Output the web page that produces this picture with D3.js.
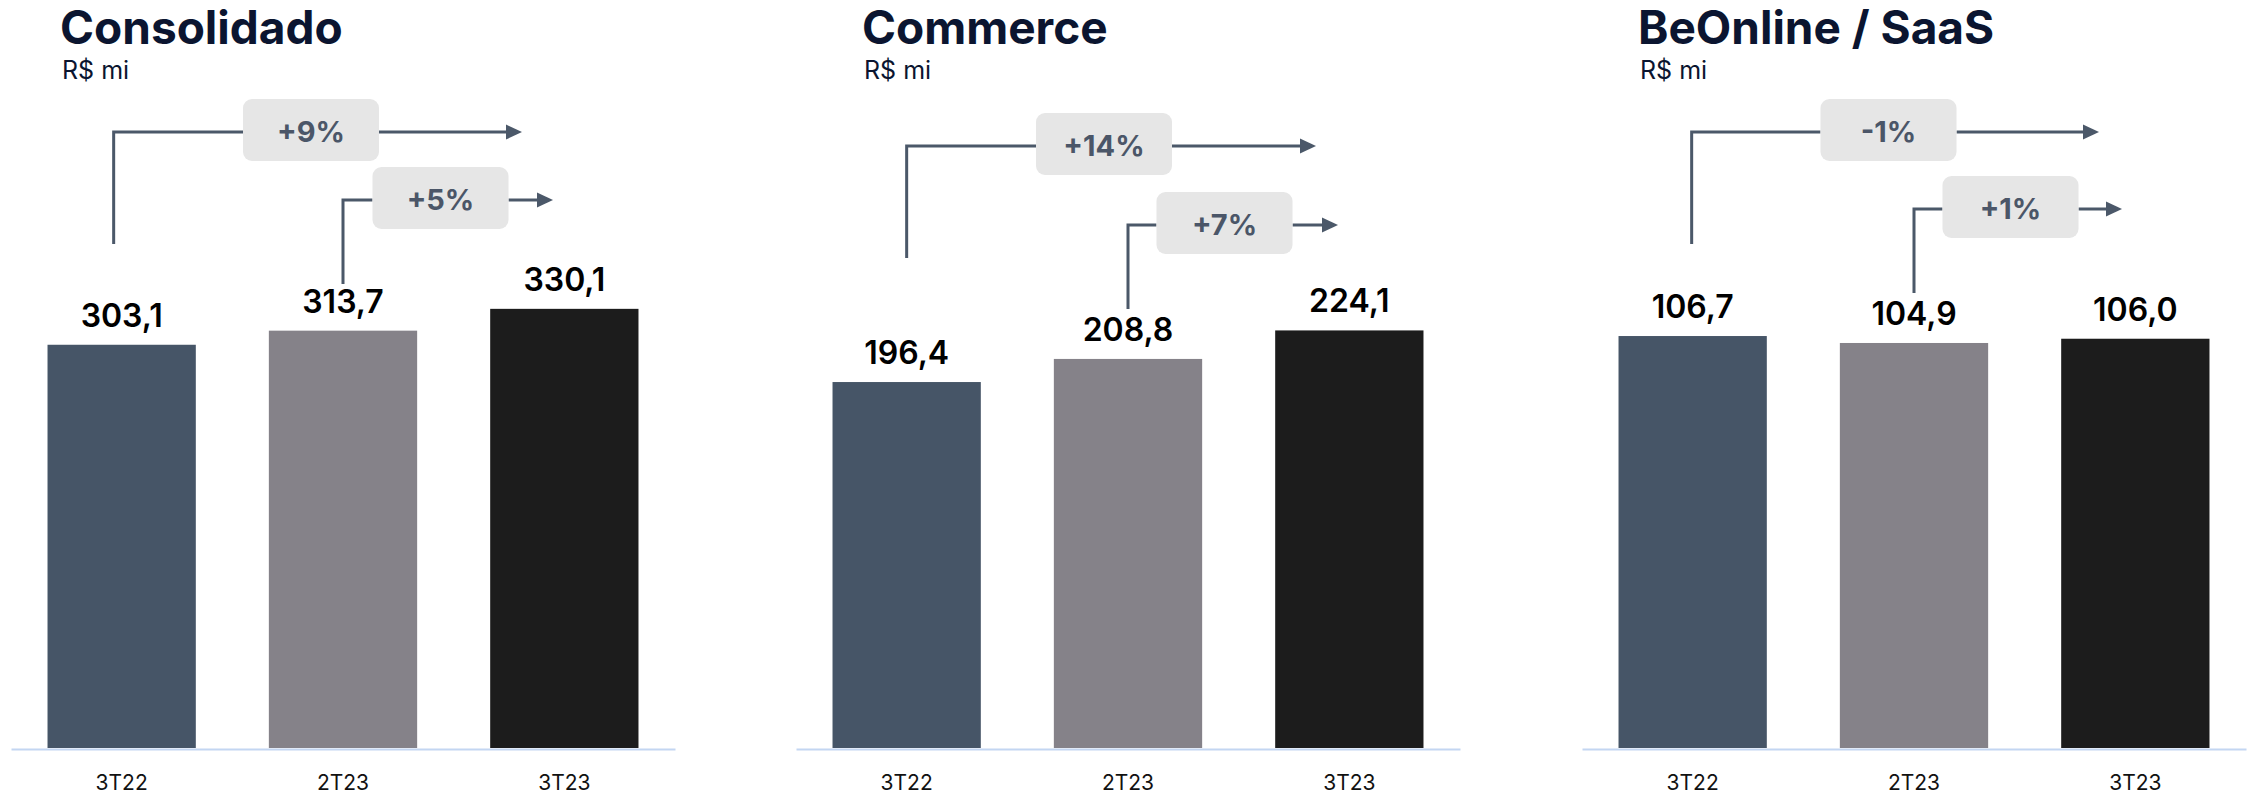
<!DOCTYPE html>
<html>
<head>
<meta charset="utf-8">
<script src="https://cdn.jsdelivr.net/npm/d3@7"></script>
<style>
  html, body { margin: 0; padding: 0; background: #ffffff; }
  svg { display: block; }
</style>
</head>
<body>
<svg id="chart" width="2259" height="795"></svg>
<script>
// ---- Data ----
const categories = ["3T22", "2T23", "3T23"];
const panelTitles = ["Consolidado", "Commerce", "BeOnline / SaaS"];
const unitLabel = "R$ mi";
const consolidado = [303.1, 313.7, 330.1];
const commerce = [196.4, 208.8, 224.1];
const beonline = [106.7, 104.9, 106.0];
const growthYoY = ["+9%", "+14%", "-1%"];
const growthQoQ = ["+5%", "+7%", "+1%"];
const yMax = [451, 322, 155.4];

// ---- Layout ----
const W = 2259, H = 795;
const panelX = [11, 796, 1582];
const panelW = 664;
const baseY = 748, topY = 148;
const barColors = ["#465567", "#858289", "#1c1c1c"];
const titleDx = [49, 66, 56];
const line1Dx = [-8, 0, -1];
const hY1 = [132, 146, 132];
const hY2 = [200, 225, 209];
const vBottom1 = [244, 258, 244];
const vBottom2 = [284, 309, 293];
const box1Cx = [300, 308, 306.5];
const box2Cx = [429.5, 428.5, 428.5];
const tip1 = [511, 520, 517];
const tip2 = [542, 542, 540];
const boxW = 136, boxH = 62;
const annColor = "#4b5869";
const font = "Inter, 'Open Sans', sans-serif";

const series = [consolidado, commerce, beonline];
const svg = d3.select("#chart");

series.forEach((vals, p) => {
  const x0 = panelX[p];
  const g = svg.append("g");
  const x = d3.scaleBand().domain(categories).range([x0, x0 + panelW])
    .paddingInner(0.33).paddingOuter(0.165);
  const y = d3.scaleLinear().domain([0, yMax[p]]).range([baseY, topY]);

  // title & unit
  g.append("text").attr("x", x0 + titleDx[p]).attr("y", 44)
    .attr("font-family", font).attr("font-weight", 700).attr("font-size", 46)
    .attr("fill", "#0b1530").text(panelTitles[p]);
  g.append("text").attr("x", x0 + titleDx[p] + 2).attr("y", 79)
    .attr("font-family", font).attr("font-weight", 400).attr("font-size", 25)
    .attr("fill", "#0b1530").text(unitLabel);

  // bars
  g.selectAll("rect.bar").data(vals).join("rect").attr("class", "bar")
    .attr("x", (d, i) => x(categories[i]))
    .attr("width", x.bandwidth())
    .attr("y", d => y(d))
    .attr("height", d => baseY - y(d))
    .attr("fill", (d, i) => barColors[i]);

  // value labels
  g.selectAll("text.val").data(vals).join("text").attr("class", "val")
    .attr("x", (d, i) => x(categories[i]) + x.bandwidth() / 2)
    .attr("y", d => y(d) - 18)
    .attr("text-anchor", "middle")
    .attr("font-family", font).attr("font-weight", 600).attr("font-size", 32)
    .attr("fill", "#000").text(d => d3.format(".1f")(d).replace(".", ","));

  // axis line
  const axis = d3.axisBottom(x).tickSize(0).tickPadding(26);
  const ag = g.append("g").attr("transform", `translate(0,${baseY + 1})`).call(axis);
  ag.select(".domain").attr("stroke", "#c3d6f2").attr("stroke-width", 2);
  ag.selectAll("text").attr("font-family", font).attr("font-size", 21)
    .attr("fill", "#111").attr("dy", "0.71em");

  // annotations
  const c1 = x(categories[0]) + x.bandwidth() / 2 + line1Dx[p];
  const c2 = x(categories[1]) + x.bandwidth() / 2;
  const anns = [
    { lx: c1, bottom: vBottom1[p], hy: hY1[p], bcx: x0 + box1Cx[p], tip: x0 + tip1[p], label: growthYoY[p] },
    { lx: c2, bottom: vBottom2[p], hy: hY2[p], bcx: x0 + box2Cx[p], tip: x0 + tip2[p], label: growthQoQ[p] }
  ];
  anns.forEach(a => {
    const bl = a.bcx - boxW / 2, br = a.bcx + boxW / 2;
    g.append("path")
      .attr("d", `M${a.lx},${a.bottom}V${a.hy}H${bl}`)
      .attr("fill", "none").attr("stroke", annColor).attr("stroke-width", 3);
    g.append("path")
      .attr("d", `M${br},${a.hy}H${a.tip - 14}`)
      .attr("fill", "none").attr("stroke", annColor).attr("stroke-width", 3);
    g.append("path")
      .attr("d", `M${a.tip},${a.hy}L${a.tip - 16},${a.hy - 7.5}L${a.tip - 16},${a.hy + 7.5}Z`)
      .attr("fill", annColor);
    const bcy = a.hy - 2;
    g.append("rect").attr("x", bl).attr("y", bcy - boxH / 2)
      .attr("width", boxW).attr("height", boxH).attr("rx", 9)
      .attr("fill", "#e6e6e6");
    g.append("text").attr("x", a.bcx).attr("y", bcy + 12)
      .attr("text-anchor", "middle")
      .attr("font-family", font).attr("font-weight", 700).attr("font-size", 29)
      .attr("fill", "#4b5668").text(a.label);
  });
});
</script>
</body>
</html>
